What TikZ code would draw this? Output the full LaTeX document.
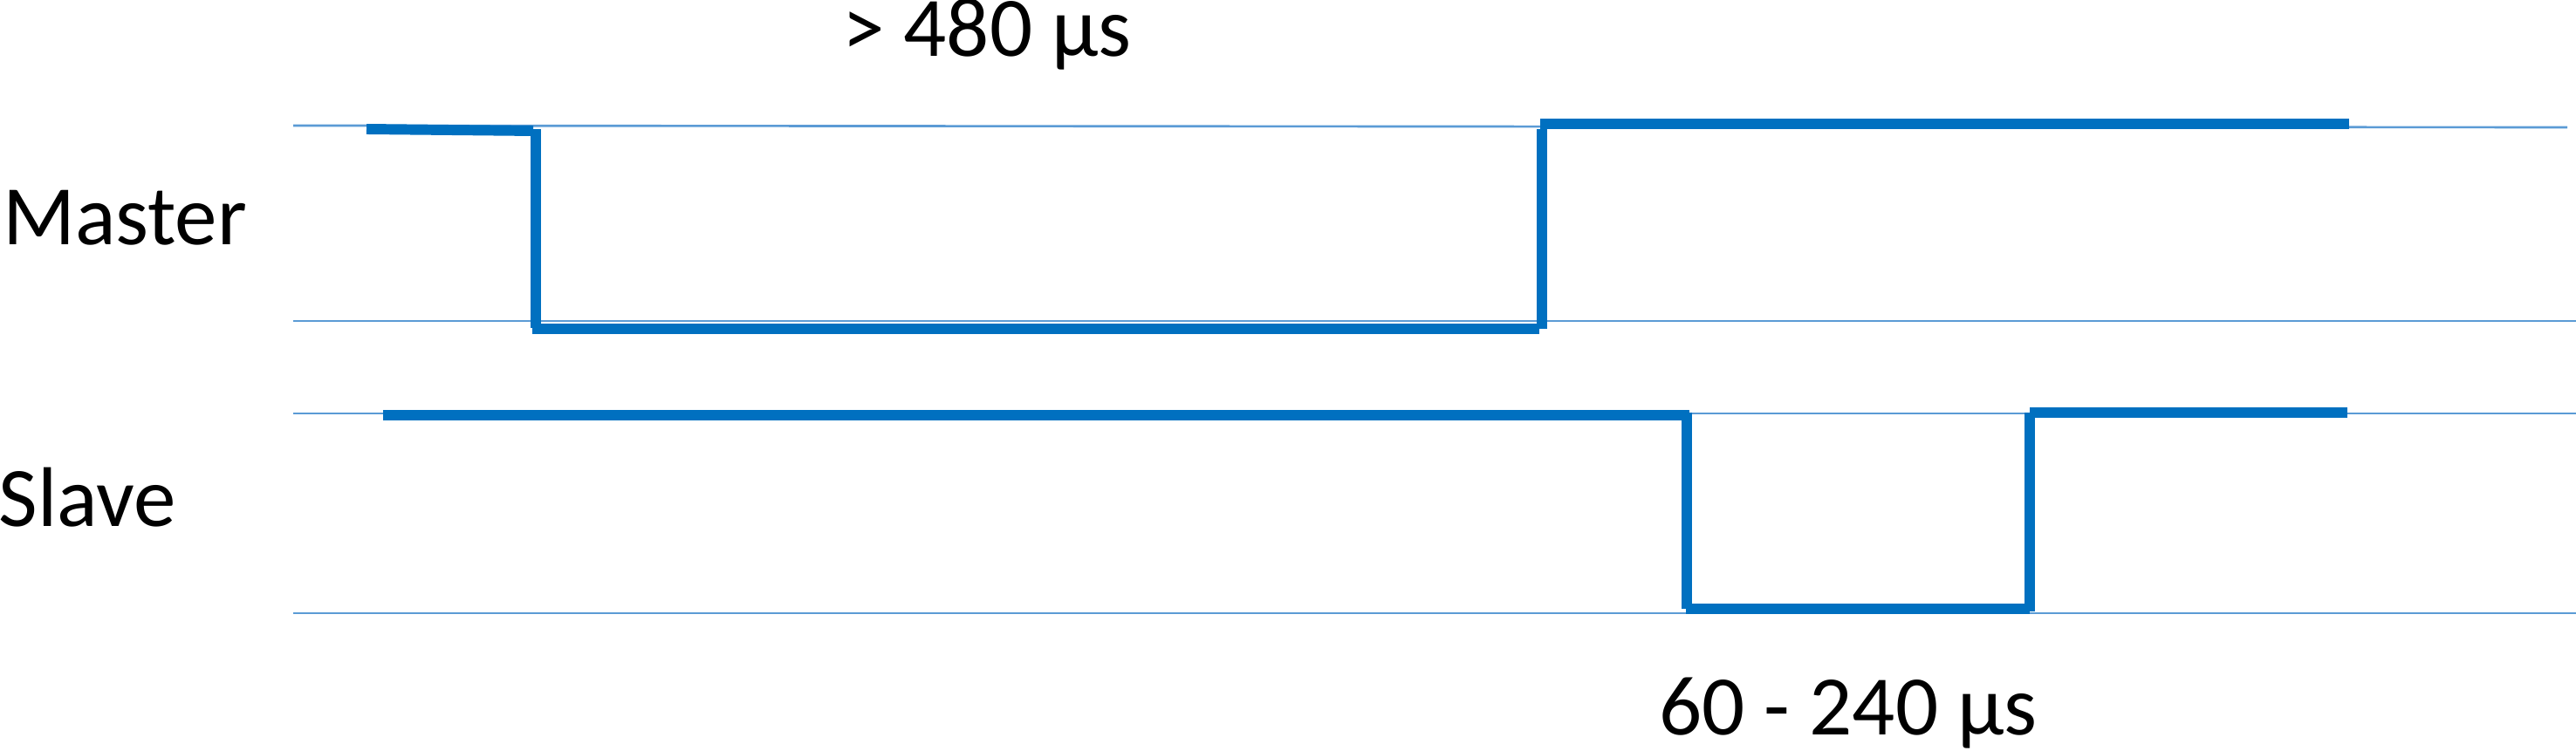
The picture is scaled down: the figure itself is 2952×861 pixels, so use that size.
\documentclass[tikz,border=0pt]{standalone}
\usepackage{fontspec}
\setmainfont{Carlito}
\definecolor{sigblue}{RGB}{0,112,192}
\definecolor{gridblue}{RGB}{91,155,213}
\begin{document}
\begin{tikzpicture}[x=0.01cm,y=-0.01cm,
  grid/.style={draw=gridblue,line width=0.75pt},
  sig/.style={draw=sigblue,line width=3.4pt,line cap=butt},
  lbl/.style={inner sep=0pt,anchor=base,font=\fontsize{27.6}{33}\selectfont}]
\useasboundingbox (0,0) rectangle (2952,861);
% reference lines
\coordinate (g1a) at (336,144); \coordinate (g1b) at (2942,146);
\coordinate (g2a) at (336,368); \coordinate (g2b) at (2952,368);
\coordinate (g3a) at (336,474); \coordinate (g3b) at (2952,474);
\coordinate (g4a) at (336,703); \coordinate (g4b) at (2952,703);
\draw[grid] (g1a) -- (g1b);
\draw[grid] (g2a) -- (g2b);
\draw[grid] (g3a) -- (g3b);
\draw[grid] (g4a) -- (g4b);
% master waveform
\coordinate (m1) at (420,148); \coordinate (m2) at (611,150);
\coordinate (m3) at (614,148); \coordinate (m4) at (614,376);
\coordinate (m5) at (610,377); \coordinate (m6) at (1764,377);
\coordinate (m7) at (1767,377); \coordinate (m8) at (1767,148);
\coordinate (m9) at (1765,142); \coordinate (m10) at (2692,142);
\draw[sig] (m1) -- (m2);
\draw[sig] (m3) -- (m4);
\draw[sig] (m5) -- (m6);
\draw[sig] (m7) -- (m8);
\draw[sig] (m9) -- (m10);
% slave waveform
\coordinate (s1) at (439,476); \coordinate (s2) at (1936,476);
\coordinate (s3) at (1933,473); \coordinate (s4) at (1933,698);
\coordinate (s5) at (1932,698); \coordinate (s6) at (2326,698);
\coordinate (s7) at (2326,701); \coordinate (s8) at (2326,473);
\coordinate (s9) at (2326,473); \coordinate (s10) at (2690,473);
\draw[sig] (s1) -- (s2);
\draw[sig] (s3) -- (s4);
\draw[sig] (s5) -- (s6);
\draw[sig] (s7) -- (s8);
\draw[sig] (s9) -- (s10);
% labels
\node[lbl] (master) at (143,281) {Master};
\node[lbl] (slave) at (100,603) {Slave};
\node[lbl] (t480) at (1131,65) {> 480 µs};
\node[lbl] (t60) at (2118,842) {60 - 240 µs};
\end{tikzpicture}
\end{document}
